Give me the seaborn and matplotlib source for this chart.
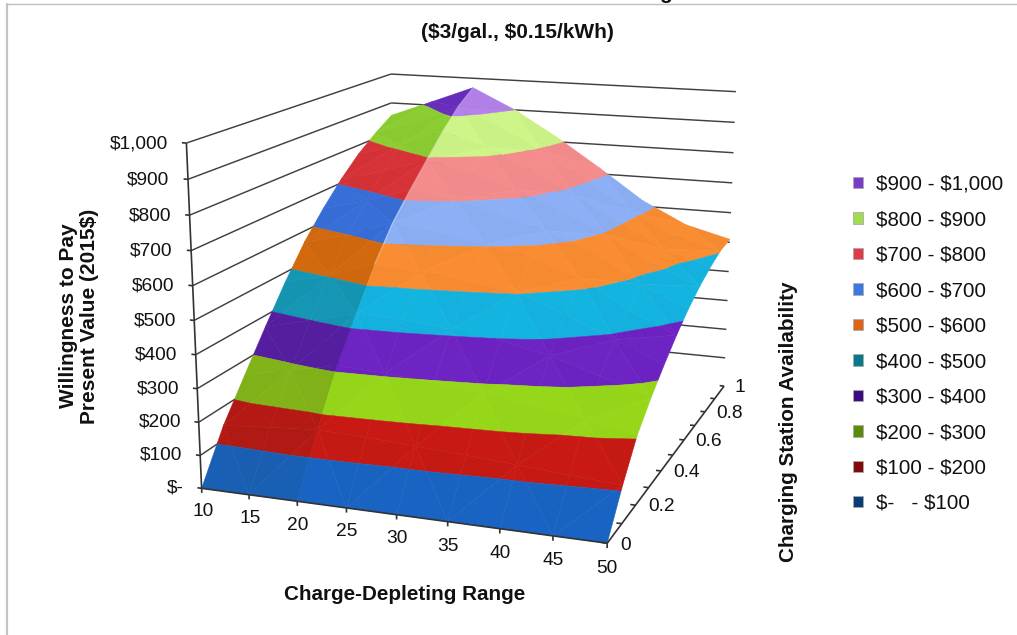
import numpy as np
import matplotlib
matplotlib.use("Agg")
import matplotlib.pyplot as plt
import seaborn as sns
from matplotlib.lines import Line2D
from matplotlib.patches import Patch
from mpl_toolkits.mplot3d import proj3d
from mpl_toolkits.mplot3d.art3d import Poly3DCollection

# ---- data ----
charge_range = [10, 15, 20, 25, 30, 35, 40, 45, 50]
availability = [0, .1, .2, .3, .4, .5, .6, .7, .8, .9, 1]
wtp_r10 = [0, 143, 255, 365, 470, 565, 643, 712, 771, 817, 857]
wtp_r15 = [0, 155, 285, 400, 505, 600, 680, 750, 812, 865, 912]
wtp_r20 = [0, 165, 315, 435, 553, 650, 725, 795, 865, 925, 968]
wtp_r25 = [0, 160, 308, 430, 540, 632, 705, 768, 822, 862, 900]
wtp_r30 = [0, 152, 295, 415, 525, 605, 668, 718, 757, 790, 815]
wtp_r35 = [0, 143, 280, 397, 505, 578, 628, 662, 685, 703, 720]
wtp_r40 = [0, 133, 262, 365, 450, 525, 572, 595, 605, 613, 620]
wtp_r45 = [0, 122, 235, 320, 388, 442, 485, 515, 530, 540, 548]
wtp_r50 = [0, 112, 208, 272, 327, 377, 420, 455, 482, 503, 510]
wtp_rows = [wtp_r10, wtp_r15, wtp_r20, wtp_r25, wtp_r30, wtp_r35, wtp_r40, wtp_r45, wtp_r50]

levels = [0, 100, 200, 300, 400, 500, 600, 700, 800, 900, 1000]
z_tick_labels = ["$-", "$100", "$200", "$300", "$400", "$500", "$600", "$700", "$800", "$900", "$1,000"]
avail_major = [0, .2, .4, .6, .8, 1]
avail_major_labels = ["0", "0.2", "0.4", "0.6", "0.8", "1"]
legend_labels = ["$-   - $100", "$100 - $200", "$200 - $300", "$300 - $400", "$400 - $500",
                 "$500 - $600", "$600 - $700", "$700 - $800", "$800 - $900", "$900 - $1,000"]

# colours: left of the crease, right of the crease, legend swatch (low band to high band)
colors_left = ["#195fb4", "#b41914", "#82b419", "#551ea0", "#1496b4", "#d2690f", "#376ed7", "#d73237", "#8ccd32", "#692dbe"]
colors_right = ["#1964c3", "#c81914", "#96d719", "#6e23c3", "#14b4e1", "#fa8c32", "#8cafF5", "#f58c8c", "#cdf587", "#b482eb"]
colors_legend = ["#0a3c78", "#820a0a", "#5a8c0a", "#3c0a82", "#0a788c", "#dc6414", "#3c78e1", "#e13c46", "#a0dc50", "#783cc8"]

W, H = 1017, 635
sns.set_theme(style="white", rc={"text.parse_math": False, "axes.facecolor": "none"})
plt.rcParams["font.family"] = ["Liberation Sans", "DejaVu Sans"]

fig = plt.figure(figsize=(W / 100, H / 100), dpi=100, facecolor="white")
side = W / H
ax = fig.add_axes([0, (1 - side) / 2, 1, side], projection="3d", computed_zorder=False)
ax.set_axis_off()
ax.patch.set_visible(False)
ax.set_proj_type("ortho")
ax.apply_aspect()
ax.set_xlim(10, 50); ax.set_ylim(0, 1); ax.set_zlim(0, 1000)

# camera: fitted homography from world axes corners to their place on the canvas
calib_world = np.array([[10, 0, 0], [50, 0, 0], [50, 1, 0], [10, 0, 1000], [10, 1, 1000], [50, 1, 1000],
                        [30, 0, 0], [10, 1, 900], [50, 1, 500], [10, 0, 500]], float)
calib_px = np.array([[201.7, 488.3], [607.3, 542.7], [725, 386], [186, 143], [391, 74], [737, 92],
                     [396, 515.7], [391, 103], [728, 242], [195, 320]], float)
disp = np.column_stack([calib_px[:, 0], H - calib_px[:, 1]])
uv = ax.transData.inverted().transform(disp)
rows = []
for (X, Y, Z), (u, v) in zip(calib_world, uv):
    rows.append([X, Y, Z, 1, 0, 0, 0, 0, -u * X, -u * Y, -u * Z, -u])
    rows.append([0, 0, 0, 0, X, Y, Z, 1, -v * X, -v * Y, -v * Z, -v])
rows = np.array(rows)
colscale = np.array([40, 1, 1000, 1, 40, 1, 1000, 1, 40, 1, 1000, 1], float)
_, _, vt = np.linalg.svd(rows * colscale)
p = vt[-1] * colscale
p = p / (p[8] * 30 + p[9] * .5 + p[10] * 500 + p[11])
M = np.array([p[:4], p[4:8], [0, .5, 0, 0], p[8:12]])
ax.get_proj = lambda: M
ax.M = M

def label3d(x, y, z, s, **kw):
    u, v, _ = proj3d.proj_transform(x, y, z, M)
    ax.text2D(u, v, s, transform=ax.transData, **kw)

# walls and axes
grid_kw = dict(color="#404040", lw=1.05, solid_capstyle="butt", zorder=1)
for z in levels[1:]:
    ax.plot([10, 10], [0, 1], [z, z], **grid_kw)
    ax.plot([10, 50], [1, 1], [z, z], **grid_kw)

# surface, cut into colour bands
def clip(poly, lo, hi):
    for sign, lim in ((1, lo), (-1, hi)):
        out = []
        for i in range(len(poly)):
            a, b = poly[i], poly[(i + 1) % len(poly)]
            da, db = sign * (a[2] - lim), sign * (b[2] - lim)
            if da >= 0:
                out.append(a)
            if da * db < 0:
                out.append(a + (b - a) * da / (da - db))
        poly = out
        if not poly:
            return []
    return poly

def tone(hex_color, f):
    c = np.array(matplotlib.colors.to_rgb(hex_color)) * f
    return tuple(np.clip(c, 0, 1))

Zg = np.array(wtp_rows, float)
polys, faces = [], []
for i in range(len(charge_range) - 1):
    for j in range(len(availability) - 1):
        v = [np.array([charge_range[i + di], availability[j + dj], Zg[i + di, j + dj]])
             for di, dj in ((0, 0), (1, 0), (1, 1), (0, 1))]
        tris = [(v[0], v[1], v[2]), (v[0], v[2], v[3])] if (i + j) % 2 else [(v[0], v[1], v[3]), (v[1], v[2], v[3])]
        for t, tri in enumerate(tris):
            table = colors_left if charge_range[i] < 20 else colors_right
            f = 1.0 if t == 0 else 0.985
            for b in range(len(levels) - 1):
                piece = clip(list(tri), levels[b], levels[b + 1])
                if len(piece) >= 3:
                    polys.append(np.array(piece))
                    faces.append(tone(table[b], f))
surf = Poly3DCollection(polys, facecolors=faces, edgecolors=faces, linewidths=0.35, zorder=2)
ax.add_collection3d(surf, autolim=False)

# pale crease along the ridge
ax.plot([20] * 7, availability[4:], wtp_r20[4:], color="white", lw=1.0, alpha=0.35, zorder=2.5)

axis_kw = dict(color="#333333", lw=1.2, solid_capstyle="butt", zorder=3)
ax.plot([10, 10], [0, 0], [0, 1000], **axis_kw)
ax.plot([10, 50], [0, 0], [0, 0], **axis_kw)
ax.plot([50, 50], [0, 1], [0, 0], **axis_kw)

# ticks and tick labels
text_kw = dict(fontsize=13.8, color="#111111", zorder=4)
for z, lab in zip(levels, z_tick_labels):
    ax.plot([9.55, 10], [0, 0], [z, z], **axis_kw)
    label3d(8.1, 0, z - 6, lab, ha="right", va="center", **text_kw)
for r in charge_range:
    ax.plot([r, r], [0, 0], [-14, 0], **axis_kw)
    label3d(r, 0, -72, str(r), ha="center", va="center", **text_kw)
for a in availability:
    ax.plot([49.5, 50], [a, a], [0, 0], **axis_kw)
for a, lab in zip(avail_major, avail_major_labels):
    label3d(51.2, a, 0, lab, ha="left", va="center", **text_kw)

# titles
def px(x, y):
    return x / W, 1 - y / H
fig.text(*px(517, 33), "($3/gal., $0.15/kWh)", ha="center", va="center", fontsize=15, fontweight="bold", color="#111111")
fig.text(*px(665, -1), "g", ha="center", va="baseline", fontsize=15, fontweight="bold", color="#111111")
fig.text(*px(405, 594), "Charge-Depleting Range", ha="center", va="center", fontsize=14.9, fontweight="bold", color="#111111")
fig.text(*px(79, 316), "Willingness to Pay\nPresent Value (2015$)", ha="center", va="center", rotation=90,
         fontsize=15, fontweight="bold", color="#111111", linespacing=1.19)
fig.text(*px(788, 421.5), "Charging Station Availability", ha="center", va="center", rotation=90,
         fontsize=14.9, fontweight="bold", color="#111111")

# legend
handles = [Patch(facecolor=c, edgecolor="#aaaaaa", linewidth=0.6, label=l) for c, l in zip(colors_legend, legend_labels)]
fig.legend(handles=handles[::-1], loc="upper left", bbox_to_anchor=px(853, 175), frameon=False, fontsize=14.8,
           handlelength=0.48, handleheight=0.48, handletextpad=0.65, labelspacing=0.80, borderpad=0, borderaxespad=0,
           labelcolor="#111111")

# chart-area frame
fig.add_artist(Line2D([7 / W, 7 / W], [0, 1 - 4 / H], color="#c4c4c4", lw=1.6))
fig.add_artist(Line2D([6 / W, 1], [1 - 4.3 / H, 1 - 4.3 / H], color="#bfbfbf", lw=1.0))

fig.savefig("out.png", dpi=100)
